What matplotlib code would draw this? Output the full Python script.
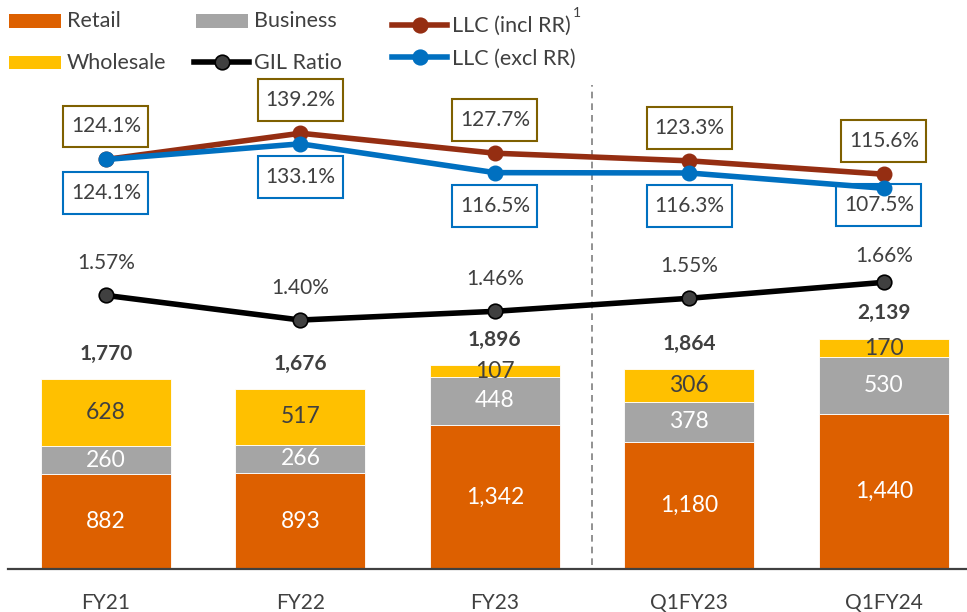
import matplotlib
matplotlib.use("Agg")
import matplotlib.pyplot as plt
from matplotlib.patches import Rectangle
from matplotlib.lines import Line2D
from matplotlib.path import Path

plt.rcParams['font.family'] = ['Lato', 'DejaVu Sans']

# ---- data ----
categories = ['FY21', 'FY22', 'FY23', 'Q1FY23', 'Q1FY24']
retail = [882, 893, 1342, 1180, 1440]
business = [260, 266, 448, 378, 530]
wholesale = [628, 517, 107, 306, 170]
totals = [1770, 1676, 1896, 1864, 2139]
llc_incl = [124.1, 139.2, 127.7, 123.3, 115.6]
llc_excl = [124.1, 133.1, 116.5, 116.3, 107.5]
gil_ratio = [1.57, 1.40, 1.46, 1.55, 1.66]

# ---- styles ----
C_RETAIL = '#DD6000'
C_BUSINESS = '#A5A5A5'
C_WHOLESALE = '#FFC000'
C_INCL = '#952E12'
C_EXCL = '#0070C0'
C_GIL = '#000000'
C_TEXT = '#404040'
C_BOX_INCL = '#7F6000'

# label offsets (points) per category
incl_off = [(0, 23.8)] * 5
excl_off = [(0, -24), (0, -24), (0, -24), (0, -24), (-3.6, -12)]
gil_off = [(0, 23), (0, 23), (0, 23), (0, 23.5), (0, 19.2)]
tot_off = [18, 18, 18.3, 18, 18.7]

W, H = 967, 612
fig = plt.figure(figsize=(W / 100, H / 100), dpi=100)

def fx(px):
    return px / W

def fy(py):
    return 1 - py / H

def labelbox(x0, y0, width, height, mutation_size):
    px = 0.36 * mutation_size
    py = 0.52 * mutation_size
    xa, ya = x0 - px, y0 - py
    xb, yb = x0 + width + px, y0 + height + py
    return Path([(xa, ya), (xb, ya), (xb, yb), (xa, yb), (xa, ya)],
                [Path.MOVETO, Path.LINETO, Path.LINETO, Path.LINETO, Path.CLOSEPOLY])

ax_left, ax_right, ax_top, ax_bottom = 8.3, 967, 85, 569
rect = [fx(ax_left), fy(ax_bottom), fx(ax_right) - fx(ax_left), fy(ax_top) - fy(ax_bottom)]
ax = fig.add_axes(rect)
x = list(range(len(categories)))
bw = 0.6686

ax.bar(x, retail, bw, color=C_RETAIL, edgecolor='white', linewidth=0.6, zorder=2)
bottom2 = retail
ax.bar(x, business, bw, bottom=bottom2, color=C_BUSINESS, edgecolor='white', linewidth=0.6, zorder=2)
bottom3 = [r + b for r, b in zip(retail, business)]
ax.bar(x, wholesale, bw, bottom=bottom3, color=C_WHOLESALE, edgecolor='white', linewidth=0.6, zorder=2)

ax.set_xlim(-0.5024, 4.428)
ax.set_ylim(0, 4507)

for i in x:
    ax.text(i, retail[i] / 2, f"{retail[i]:,}", ha='center', va='center', color='white', fontsize=16.5)
    ax.text(i, bottom2[i] + business[i] / 2, f"{business[i]:,}", ha='center', va='center', color='white', fontsize=16.5)
    ax.text(i, bottom3[i] + wholesale[i] / 2, f"{wholesale[i]:,}", ha='center', va='center', color=C_TEXT, fontsize=16.5)
    top = bottom3[i] + wholesale[i]
    ax.annotate(f"{totals[i]:,}", (i, top), xytext=(0, tot_off[i]), textcoords='offset points',
                ha='center', va='center', fontsize=15, fontweight='bold', color=C_TEXT)

ax.axvline(2.5, ymin=0.008, ymax=1, color='#7F7F7F', linestyle=(0, (4, 3)), linewidth=1.2, zorder=1)

for s in ['top', 'left', 'right']:
    ax.spines[s].set_visible(False)
ax.spines['bottom'].set_color(C_TEXT)
ax.spines['bottom'].set_linewidth(1.6)
ax.spines['bottom'].set_zorder(3)
ax.set_yticks([])
ax.set_xticks(x)
ax.set_xticklabels(categories, fontsize=15, color=C_TEXT)
ax.tick_params(axis='x', length=0, pad=17)

# LLC axis
ax2 = ax.twinx()
ax2.set_ylim(-111.9, 167.0)
ax2.axis('off')
ax2.plot(x, llc_incl, color=C_INCL, lw=4, marker='o', ms=10.5, zorder=3)
ax2.plot(x, llc_excl, color=C_EXCL, lw=4, marker='o', ms=10.5, zorder=4)
for i in x:
    ax2.annotate(f"{llc_incl[i]:.1f}%", (i, llc_incl[i]), xytext=incl_off[i], textcoords='offset points',
                 ha='center', va='center', fontsize=15, color=C_TEXT, zorder=2,
                 bbox=dict(boxstyle=labelbox, fc='white', ec=C_BOX_INCL, lw=1.5))
    ax2.annotate(f"{llc_excl[i]:.1f}%", (i, llc_excl[i]), xytext=excl_off[i], textcoords='offset points',
                 ha='center', va='center', fontsize=15, color=C_TEXT, zorder=2,
                 bbox=dict(boxstyle=labelbox, fc='white', ec=C_EXCL, lw=1.5))

# GIL axis
ax3 = ax.twinx()
ax3.set_ylim(-0.317, 3.021)
ax3.axis('off')
ax3.plot(x, gil_ratio, color=C_GIL, lw=4, marker='o', ms=10.5, markerfacecolor='#404040',
         markeredgecolor='#000000', markeredgewidth=1.2, zorder=3)
for i in x:
    ax3.annotate(f"{gil_ratio[i]:.2f}%", (i, gil_ratio[i]), xytext=gil_off[i], textcoords='offset points',
                 ha='center', va='center', fontsize=15, color=C_TEXT)

# ---- legend (drawn manually) ----
def patch(x0, x1, y0, y1, color):
    fig.add_artist(Rectangle((fx(x0), fy(y1)), fx(x1) - fx(x0), fy(y0) - fy(y1),
                             transform=fig.transFigure, color=color, lw=0))

def legline(x0, x1, y, color, mfc, mec):
    fig.add_artist(Line2D([fx(x0), fx(x1)], [fy(y), fy(y)], transform=fig.transFigure,
                          color=color, lw=4))
    fig.add_artist(Line2D([fx((x0 + x1) / 2)], [fy(y)], transform=fig.transFigure,
                          marker='o', ms=10.5, mfc=mfc, mec=mec, mew=1.2, lw=0))

def legtext(x0, baseline, s):
    return fig.text(fx(x0), fy(baseline), s, ha='left', va='baseline', fontsize=15.5, color=C_TEXT)

patch(9, 61, 14, 27.7, C_RETAIL)
legtext(66.7, 27.3, 'Retail')
patch(9, 61, 56, 69.3, C_WHOLESALE)
legtext(66.7, 69.3, 'Wholesale')
patch(196, 248, 14, 27.7, C_BUSINESS)
legtext(254, 27.3, 'Business')
legline(194, 249, 62.3, C_GIL, '#404040', '#000000')
legtext(254, 69.3, 'GIL Ratio')
legline(392, 447, 25, C_INCL, C_INCL, C_INCL)
t_incl = legtext(452, 31.7, 'LLC (incl RR)')
legline(392, 447, 57.3, C_EXCL, C_EXCL, C_EXCL)
legtext(452, 65, 'LLC (excl RR)')

renderer = fig.canvas.get_renderer()
bb = t_incl.get_window_extent(renderer)
fig.text(bb.x1 / W + fx(6), fy(13), '1', ha='center', va='center', fontsize=10, color=C_TEXT)

fig.savefig('out.png', dpi=100)
